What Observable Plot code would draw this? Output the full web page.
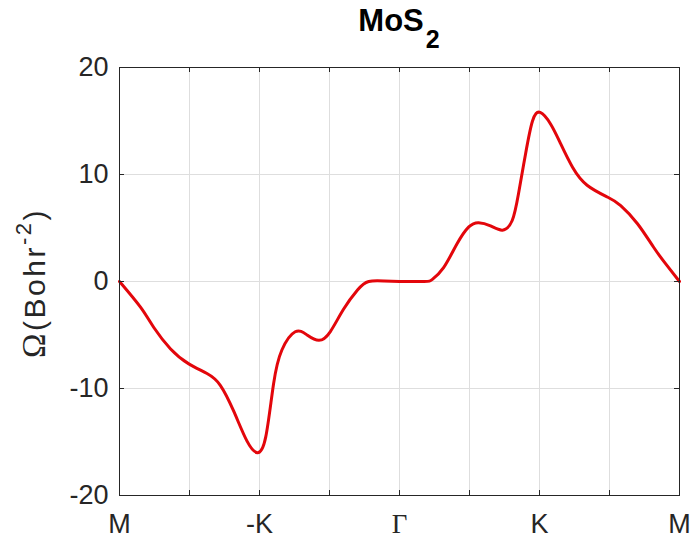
<!DOCTYPE html>
<html><head><meta charset="utf-8">
<script src="https://cdn.jsdelivr.net/npm/d3@7"></script>
<script src="https://cdn.jsdelivr.net/npm/@observablehq/plot@0.6"></script>
<style>
body{margin:0;background:#fff;font-family:"Liberation Sans",Arial,sans-serif;}
#wrap{position:relative;width:692px;}
#title{position:relative;height:56px;width:692px;z-index:2;}
#title .t{position:absolute;left:399px;top:5px;transform:translateX(-50%);font-weight:bold;font-size:31px;line-height:31px;color:#000;white-space:nowrap;}
#title .s{font-size:25px;position:relative;top:17px;margin-left:2px;}
</style></head>
<body>
<div id="wrap">
<div id="title"><span class="t">MoS<span class="s">2</span></span></div>
<div id="chart"></div>
</div>
<script>
// path coordinate along M → -K → Γ → K → M (grid units), Berry curvature values
const kPath = [0,0.3,0.49,0.73,0.99,1.25,1.44,1.63,1.82,1.97,2.09,2.2,2.32,2.51,2.68,2.85,3.01,3.2,3.4,3.56,3.78,4.0,4.35,4.47,4.63,4.82,4.99,5.13,5.3,5.47,5.61,5.7,5.8,5.9,6.01,6.16,6.3,6.47,6.68,6.97,7.16,7.4,7.63,7.82,8.0];
const omega = [0,-2.4,-4.3,-6.3,-7.7,-8.6,-9.7,-12.1,-14.9,-16.0,-14.5,-9.6,-6.4,-4.7,-5.0,-5.5,-4.7,-2.6,-0.8,0,0.05,0,0,0.2,1.3,3.5,5.1,5.5,5.2,4.8,5.7,8.2,11.9,15.0,15.8,14.7,12.9,10.7,9.0,7.9,7.1,5.4,3.2,1.5,0];
const xTickPos = [0,2,4,6,8];
const xTickLabels = ["M","-K","Γ","K","M"];
const xGrid = [0,1,2,3,4,5,6,7,8];
const yTicks = [-20,-10,0,10,20];

const W = 692, H = 486, mL = 119, mR = 13, mT = 11, mB = 47;
const plotW = W - mL - mR, plotH = H - mT - mB, tickLen = 5;
const ink = "#262626", gridC = "#dedede";
const data = kPath.map((k, i) => ({k, w: omega[i]}));
const sansTicks = xTickPos.filter((d, i) => xTickLabels[i] !== "Γ");
const serifTicks = xTickPos.filter((d, i) => xTickLabels[i] === "Γ");
const fmt = d => xTickLabels[xTickPos.indexOf(d)];

const svg = Plot.plot({
  width: W, height: H, marginLeft: mL, marginRight: mR, marginTop: mT, marginBottom: mB,
  style: {fontFamily: "'Liberation Sans', Arial, sans-serif", fontSize: "27px", color: ink, background: "#fff", overflow: "visible"},
  x: {domain: [0, 8], axis: null},
  y: {domain: [-20, 20], axis: null},
  marks: [
    Plot.gridX(xGrid, {x: d => d, stroke: gridC, strokeOpacity: 1}),
    Plot.gridY(yTicks, {y: d => d, stroke: gridC, strokeOpacity: 1}),
    Plot.line(data, {x: "k", y: "w", stroke: "#e3060b", strokeWidth: 3, curve: "natural"}),
    Plot.tickX(xGrid, {x: d => d, insetTop: plotH - tickLen, stroke: ink}),
    Plot.tickX(xGrid, {x: d => d, insetBottom: plotH - tickLen, stroke: ink}),
    Plot.tickY(yTicks, {y: d => d, insetRight: plotW - tickLen, stroke: ink}),
    Plot.tickY(yTicks, {y: d => d, insetLeft: plotW - tickLen, stroke: ink}),
    Plot.frame({stroke: ink}),
    Plot.axisX(sansTicks, {tickSize: 0, tickPadding: 18, tickFormat: fmt, fill: ink, label: null}),
    Plot.axisX(serifTicks, {tickSize: 0, tickPadding: 18, tickFormat: fmt, fill: ink, label: null, fontFamily: "'Liberation Serif', 'Times New Roman', serif"}),
    Plot.axisY(yTicks, {tickSize: 0, tickPadding: 11, fill: ink, label: null, tickFormat: d => String(d)})
  ]
});

// y-axis label with serif Ω and superscript
const lbl = d3.select(svg).append("text")
  .attr("transform", `translate(45,${(mT + H - mB) / 2 + 2}) rotate(-90)`)
  .attr("text-anchor", "middle")
  .attr("fill", ink)
  .attr("font-size", 30)
  .attr("letter-spacing", 2.5)
  .attr("font-family", "'Liberation Sans', Arial, sans-serif");
lbl.append("tspan").attr("font-family", "'Liberation Serif', serif").attr("font-size", 33).text("Ω");
lbl.append("tspan").text("(Bohr");
lbl.append("tspan").attr("font-size", 22).attr("dy", -14).text("-2");
lbl.append("tspan").attr("dy", 14).text(")");

document.getElementById("chart").appendChild(svg);
</script>
</body></html>
